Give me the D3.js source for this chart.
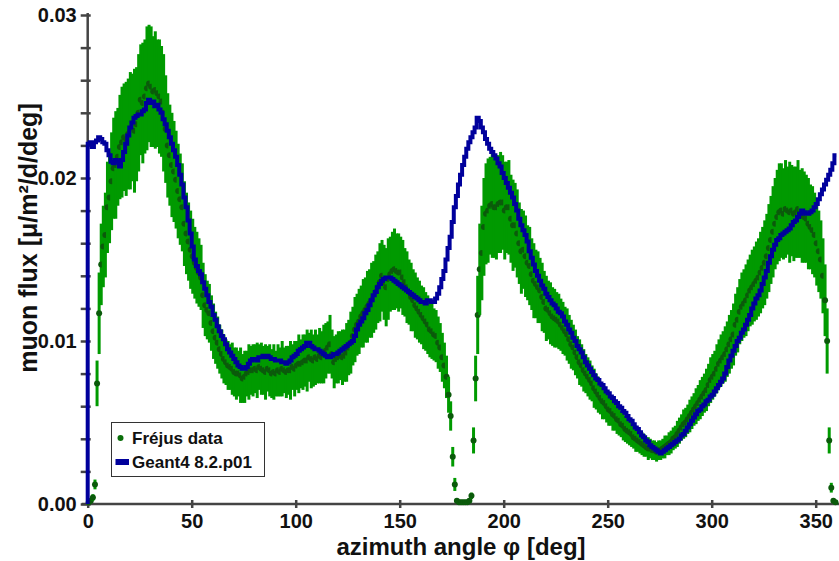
<!DOCTYPE html>
<html><head><meta charset="utf-8">
<script src="https://cdn.jsdelivr.net/npm/d3@7"></script>
<style>
body{margin:0;background:#fff}
svg{display:block}
text{font-family:"Liberation Sans",Arial,sans-serif;font-weight:bold;fill:#111}
</style>
</head><body>
<svg id="chart" width="839" height="561"></svg>
<script>
// values are in units of 1e-4 muon/m^2/d/deg
const UNIT = 1e-4;
const xTickValues = [0, 50, 100, 150, 200, 250, 300, 350];
const yMajorTicks = [0, 0.01, 0.02, 0.03];
const yMinorTicks = [0, 0.002, 0.004, 0.006, 0.008, 0.01, 0.012, 0.014, 0.016, 0.018, 0.02, 0.022, 0.024, 0.026, 0.028, 0.03];
const binCenters = d3.range(360).map(i => i + 0.5);   // 1-degree azimuth bins
const binEdges = d3.range(361);

const frejusFlux = [
1,2,4,12,74,117,147,158,165,182,
188,198,206,208,213,219,222,225,224,227,
229,231,229,233,240,248,246,250,255,258,
256,253,254,252,250,247,240,230,220,214,
208,204,199,192,187,182,172,166,161,156,
152,148,145,142,139,128,122,119,117,111,
106,102,99,95,92,89,87,85,84,83,
81,80,80,79,77,78,80,81,82,82,
83,82,84,83,82,81,83,82,80,81,
80,82,81,83,82,81,82,82,84,83,
85,86,86,87,88,88,90,89,88,90,
89,91,90,92,94,96,98,92,87,89,
90,91,90,91,93,96,99,103,107,110,
112,115,117,119,121,123,125,127,130,133,
136,140,136,133,138,141,143,144,143,142,
142,139,136,133,130,127,125,122,120,118,
116,114,112,110,107,106,104,103,99,96,
90,85,78,67,54,29,12,2,1,1,
1,1,1,2,5,39,77,116,144,154,
170,178,180,183,184,182,182,184,185,185,
180,182,182,175,171,171,166,160,155,156,
152,148,146,141,137,135,133,131,127,124,
120,119,117,115,114,113,112,110,108,106,
104,101,98,96,93,90,87,85,82,80,
78,76,74,71,69,67,65,63,62,60,
58,57,55,54,52,51,49,48,46,45,
44,43,41,40,39,38,37,36,35,34,
34,33,33,32,33,33,34,35,36,37,
38,40,41,43,45,47,49,50,52,54,
56,58,60,62,64,66,68,70,73,76,
78,80,83,86,88,90,92,95,98,101,
104,110,113,118,121,123,125,128,131,133,
135,137,139,142,145,148,152,157,162,167,
172,176,179,180,178,181,180,179,180,178,
179,181,178,177,176,175,172,170,168,165,
160,155,150,140,125,100,39,10,2,1
];

const frejusErr = [
1,1,2,3,14,25,25,25,26,28,
28,30,31,33,30,32,34,33,35,34,
36,33,38,35,36,34,37,35,38,36,
37,34,36,33,35,34,36,33,32,31,
32,31,30,29,28,27,26,25,24,24,
23,22,22,21,20,20,19,18,18,17,
17,16,16,15,15,15,14,15,14,16,
15,16,14,17,15,16,14,17,15,16,
15,17,14,16,15,17,14,16,15,17,
14,16,15,17,14,16,15,18,14,17,
15,18,15,17,16,19,15,18,16,17,
15,17,16,18,17,16,18,15,16,15,
16,15,17,16,18,17,19,18,20,19,
20,19,21,20,22,21,23,22,23,22,
24,22,23,24,25,23,24,25,23,24,
22,23,21,22,20,21,19,20,19,19,
18,19,18,18,17,17,16,16,16,15,
15,14,13,11,9,6,4,1,1,1,
1,1,1,1,2,8,14,24,28,29,
30,31,32,30,33,31,32,30,31,29,
30,28,29,27,28,26,27,25,26,24,
25,23,24,22,23,21,22,20,21,19,
20,18,19,18,18,17,17,16,16,15,
16,15,15,14,14,13,14,13,13,12,
12,12,11,12,11,11,10,11,10,10,
10,9,10,9,9,9,8,9,8,8,
8,8,7,8,7,7,7,7,6,7,
6,6,6,6,6,6,6,7,6,7,
7,7,7,8,8,8,9,9,9,10,
10,10,11,11,12,12,12,13,13,14,
14,14,15,15,16,16,17,17,18,18,
19,19,20,20,21,21,22,22,22,23,
23,24,24,25,25,26,26,27,27,28,
28,29,30,29,28,30,27,31,28,29,
28,30,27,29,28,27,28,26,27,26,
26,25,24,23,22,20,8,3,1,1
];

const geant4Flux = [
221,222,219,222,223,225,224,222,221,217,
214,210,209,211,210,207,211,216,221,226,
231,234,237,238,239,239,241,242,246,248,
246,247,244,245,242,240,236,233,229,225,
221,217,213,208,202,196,188,182,174,166,
158,150,146,143,141,136,132,128,124,121,
116,113,109,106,103,101,98,95,93,91,
89,87,85,84,83,83,84,86,88,89,
89,88,90,90,91,90,91,90,89,89,
88,88,88,87,87,86,87,88,90,91,
92,94,95,96,97,99,99,97,96,95,
95,94,93,92,91,90,90,91,92,92,
93,94,95,96,97,98,99,100,103,107,
110,112,114,117,119,122,125,128,130,133,
135,137,138,139,139,139,138,137,136,135,
134,133,132,131,130,129,128,127,126,125,
124,124,123,125,125,124,124,126,129,133,
138,143,150,157,164,173,182,189,196,202,
208,213,218,222,225,228,231,237,235,231,
228,224,221,218,216,214,212,209,207,203,
200,197,194,191,188,184,180,175,171,168,
165,161,155,151,147,143,140,137,134,132,
129,127,125,123,122,120,118,117,115,112,
110,107,105,102,100,97,95,93,90,87,
85,83,81,79,77,76,74,73,71,69,
68,66,65,63,62,60,59,57,56,54,
52,51,49,47,46,44,42,41,39,38,
36,35,34,33,32,31,32,33,34,35,
36,37,38,39,40,42,43,45,47,49,
51,53,55,57,58,60,61,63,64,66,
67,69,71,73,75,77,80,84,88,91,
94,97,100,102,105,107,110,113,116,120,
123,126,128,131,135,139,143,148,152,156,
159,162,163,165,166,167,168,169,171,173,
174,176,178,180,179,178,178,179,180,182,
184,187,190,193,196,199,202,205,209,214
];

const legendLabels = ["Fréjus data", "Geant4 8.2.p01"];
const GREEN = "#009a00", DOT = "#0b5a0b", BLUE = "#00009c", AXIS = "#444";

const svg = d3.select("#chart");
const x = d3.scaleLinear().domain([0, 360]).range([87.7, 836.5]);
const y = d3.scaleLinear().domain([0, 0.03]).range([504, 15]);

// axes
const yAxis = d3.axisLeft(y).tickValues(yMinorTicks).tickSize(7).tickSizeOuter(0)
  .tickPadding(4)
  .tickFormat(d => yMajorTicks.some(m => Math.abs(m - d) < 1e-9) ? d3.format(".2f")(d) : "");
const gy = svg.append("g").attr("transform", `translate(${x(0)},0)`).call(yAxis);
gy.selectAll(".tick line").attr("x1", 3).attr("stroke", AXIS).attr("stroke-width", 2.5);
gy.select(".domain").attr("stroke", AXIS).attr("stroke-width", 2.5).attr("d", `M0,${y(0.03)-2}V${y(0)+1}`);
gy.selectAll(".tick text").attr("font-size", 20).attr("font-weight", "bold").attr("fill", "#111")
  .attr("font-family", '"Liberation Sans",Arial,sans-serif');

const xAxis = d3.axisBottom(x).tickValues(xTickValues).tickSize(4).tickSizeOuter(0).tickPadding(6);
const gx = svg.append("g").attr("transform", `translate(0,${y(0)})`).call(xAxis);
gx.selectAll(".tick line").attr("y1", -4).attr("stroke", AXIS).attr("stroke-width", 2.5);
gx.select(".domain").attr("stroke", AXIS).attr("stroke-width", 2.5).attr("d", `M${x(0)-6},0H839`);
gx.selectAll(".tick text").attr("font-size", 20).attr("font-weight", "bold").attr("fill", "#111")
  .attr("font-family", '"Liberation Sans",Arial,sans-serif');

// axis titles
svg.append("text").attr("x", 461).attr("y", 555).attr("text-anchor", "middle")
  .attr("font-size", 24).text("azimuth angle φ [deg]");
svg.append("text").attr("transform", "translate(37,238) rotate(-90)").attr("text-anchor", "middle")
  .attr("font-size", 25).text("muon flux [μ/m²/d/deg]");

// data: error bar + point, drawn in sequence
const gData = svg.append("g");
binCenters.forEach((a, i) => {
  const v = frejusFlux[i] * UNIT, e = frejusErr[i] * UNIT;
  gData.append("line").attr("x1", x(a)).attr("x2", x(a))
    .attr("y1", y(v - e)).attr("y2", y(v + e))
    .attr("stroke", GREEN).attr("stroke-width", 3);
  gData.append("circle").attr("cx", x(a)).attr("cy", y(v)).attr("r", 3).attr("fill", DOT);
});

// Geant4 histogram
const pts = [[0, 0]].concat(geant4Flux.map((v, i) => [binEdges[i], v * UNIT]))
  .concat([[binEdges[360], geant4Flux[359] * UNIT]]);
const line = d3.line().x(d => x(d[0])).y(d => y(d[1])).curve(d3.curveStepAfter);
svg.append("path").attr("d", line(pts)).attr("fill", "none")
  .attr("stroke", BLUE).attr("stroke-width", 4).attr("stroke-linejoin", "miter");

// legend
const lg = svg.append("g");
lg.append("rect").attr("x", 111.5).attr("y", 422.5).attr("width", 153).attr("height", 54)
  .attr("fill", "#fff").attr("stroke", "#333").attr("stroke-width", 1);
lg.append("circle").attr("cx", 120.5).attr("cy", 438).attr("r", 3).attr("fill", "#0a6e0a");
lg.append("rect").attr("x", 115.5).attr("y", 459).attr("width", 13.5).attr("height", 6).attr("fill", BLUE);
lg.selectAll("text.lt").data(legendLabels).join("text").attr("class", "lt")
  .attr("x", 132).attr("y", (d, i) => 444 + i * 24).attr("font-size", 17).text(d => d);
</script>
</body></html>
